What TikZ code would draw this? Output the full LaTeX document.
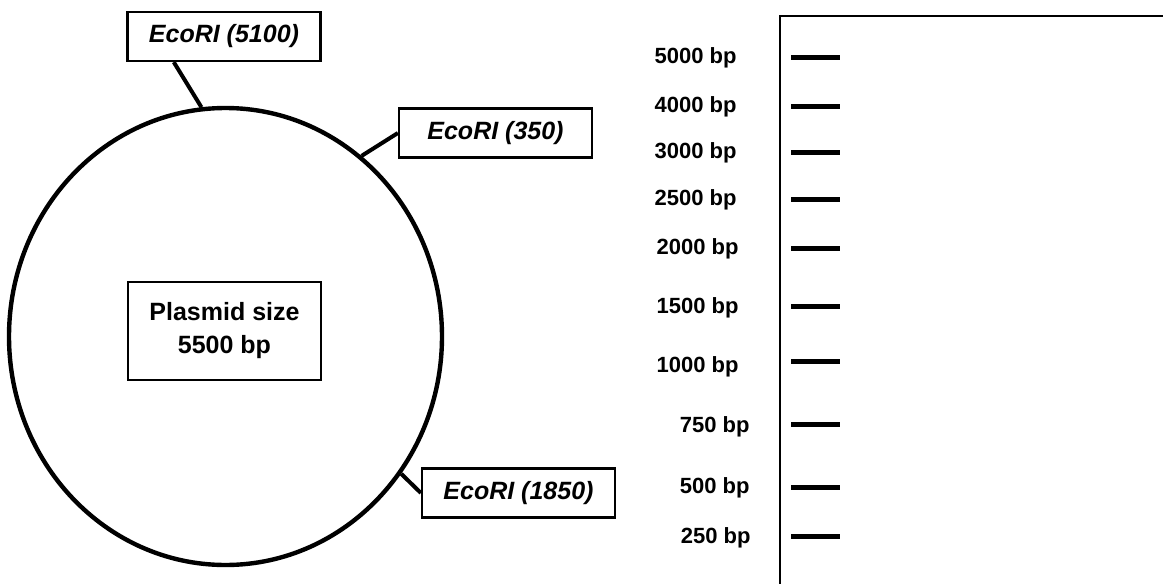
\documentclass[tikz,border=0pt]{standalone}
\usepackage{fontspec}
\setmainfont{Liberation Sans}
\usetikzlibrary{positioning,shapes.geometric}

\begin{document}
\begin{tikzpicture}[
  x=0.5pt, y=-0.5pt,
  site/.style={draw, line width=1.1pt, minimum width=96.5pt, minimum height=24.5pt, inner sep=0pt, font=\fontsize{12.5}{14}\selectfont\bfseries\itshape},
  sizebox/.style={draw, line width=1.1pt, minimum width=96.5pt, minimum height=49pt, inner sep=0pt, align=center, font=\fontsize{12.5}{16.5}\selectfont\bfseries},
  ring/.style={draw, ellipse, line width=2.2pt, minimum width=216.5pt, minimum height=228.5pt, inner sep=0pt},
  tick/.style={line width=2pt},
  band/.style={fill=black, minimum width=24.5pt, minimum height=2.5pt, inner sep=0pt},
  marker/.style={anchor=east, inner sep=0pt, font=\fontsize{11}{13}\selectfont\bfseries}
]
\useasboundingbox (0,0) rectangle (1163,584);

% plasmid map
\node[ring] (plasmid) at (225.5,336.5) {};
\node[site] (site5100) at (224,36.5) {EcoRI (5100)};
\node[site] (site350) at (495.5,133) {EcoRI (350)};
\node[sizebox] (plasmidsize) at (224.5,331) {Plasmid size\\5500 bp};
\node[site] (site1850) at (518.5,493) {EcoRI (1850)};

\draw[tick] (site5100.207) -- (plasmid.96);
\draw[tick] (site350.west) -- (plasmid.53);
\draw[tick] (site1850.west) -- (plasmid.-38);

% gel with marker lane
\coordinate (geltop) at (1163,16);
\coordinate (gelcorner) at (780,16);
\coordinate (gelfoot) at (780,584);
\draw[line width=1.2pt] (geltop) -- (gelcorner) -- (gelfoot);

\foreach \size/\y/\ly/\lx in {5000/57/58/737, 4000/106/107/737, 3000/152/153/737, 2500/199/200/737, 2000/248/249/739,
    1500/306/308/739, 1000/361/367/739, 750/424/427/750, 500/487/488/750, 250/536/538/751} {
  \node[band] (band\size) at (815,\y) {};
  \node[marker] (mark\size) at (\lx,\ly) {\size\ bp};
}
\end{tikzpicture}
\end{document}
